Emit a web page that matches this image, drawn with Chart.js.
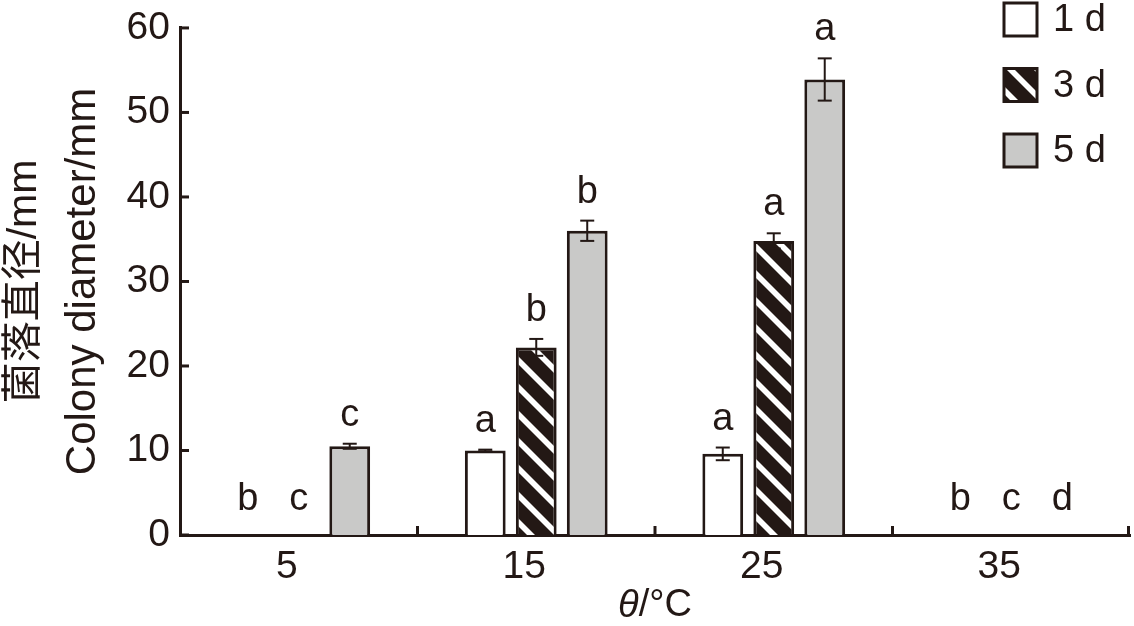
<!DOCTYPE html>
<html>
<head>
<meta charset="utf-8">
<script src="https://cdn.jsdelivr.net/npm/chart.js@4.4.1/dist/chart.umd.min.js"></script>
<style>
  html, body { margin: 0; padding: 0; background: #fff; }
  #wrap { width: 1134px; height: 626px; }
</style>
</head>
<body>
<div id="wrap"><canvas id="colonyChart"></canvas></div>
<script>
const temperatures = ['5', '15', '25', '35'];
const seriesNames = ['1 d', '3 d', '5 d'];
const day1 = [0, 10.0, 9.6, 0];
const day3 = [0, 22.2, 34.8, 0];
const day5 = [10.5, 36.0, 53.9, 0];
const day1Err = [0, 0.1, 0.75, 0];
const day3Err = [0, 1.0, 0.9, 0];
const day5Err = [0.3, 1.2, 2.5, 0];
const day1Letters = ['b', 'a', 'a', 'b'];
const day3Letters = ['c', 'b', 'a', 'c'];
const day5Letters = ['c', 'b', 'a', 'd'];
const yTicks = [0, 10, 20, 30, 40, 50, 60];

const INK = '#231815';
const GRAY = '#c9c9c8';
const FONT = '"Liberation Sans", Arial, "Noto Sans CJK SC", sans-serif';

// diagonal "\" stripes, white on black
function makeHatch() {
  const w = 27, h = 27, band = 8;
  const c = document.createElement('canvas');
  c.width = w; c.height = h;
  const g = c.getContext('2d');
  g.fillStyle = INK;
  g.fillRect(0, 0, w, h);
  g.fillStyle = '#fff';
  for (let k = -1; k <= 1; k++) {
    const o = k * h;
    g.beginPath();
    g.moveTo(0, o);
    g.lineTo(w, o + h);
    g.lineTo(w, o + h + band);
    g.lineTo(0, o + band);
    g.closePath();
    g.fill();
  }
  return g.createPattern(c, 'repeat');
}

const hatch = makeHatch();
const errors = [day1Err, day3Err, day5Err];
const letters = [day1Letters, day3Letters, day5Letters];

function seg(ctx, x1, y1, x2, y2) {
  ctx.beginPath();
  ctx.moveTo(x1, y1);
  ctx.lineTo(x2, y2);
  ctx.stroke();
}

const overlay = {
  id: 'overlay',
  afterDraw(chart) {
    const { ctx, chartArea, scales: { x, y } } = chart;
    ctx.save();
    ctx.strokeStyle = INK;
    ctx.fillStyle = INK;

    // inward tick marks
    ctx.lineWidth = 3;
    yTicks.forEach(v => {
      const py = y.getPixelForValue(v);
      seg(ctx, chartArea.left, py, chartArea.left + 9, py);
    });
    const half = (x.getPixelForValue(1) - x.getPixelForValue(0)) / 2;
    temperatures.forEach((t, i) => {
      const px = Math.min(x.getPixelForValue(i) + half, chartArea.right - 1.5);
      seg(ctx, px, chartArea.bottom, px, chartArea.bottom - 9);
    });

    // error bars and letters
    chart.data.datasets.forEach((ds, di) => {
      const meta = chart.getDatasetMeta(di);
      meta.data.forEach((bar, i) => {
        const v = ds.data[i];
        const e = errors[di][i];
        if (e > 0) {
          const top = y.getPixelForValue(v + e);
          const bot = y.getPixelForValue(v - e);
          ctx.lineWidth = 2;
          seg(ctx, bar.x, top, bar.x, bot);
          seg(ctx, bar.x - 7, top, bar.x + 7, top);
          seg(ctx, bar.x - 7, bot, bar.x + 7, bot);
        }
        const ly = v + e > 0 ? y.getPixelForValue(v + e) - 18 : y.getPixelForValue(0) - 25;
        ctx.font = '38px ' + FONT;
        ctx.textAlign = 'center';
        ctx.textBaseline = 'alphabetic';
        ctx.fillText(letters[di][i], bar.x, ly);
      });
    });

    // legend
    chart.data.datasets.forEach((ds, di) => {
      const top = 3 + di * 65.5;
      ctx.fillStyle = ds.backgroundColor;
      ctx.fillRect(1004, top, 33, 33);
      ctx.lineWidth = 3;
      ctx.strokeStyle = INK;
      ctx.strokeRect(1004, top, 33, 33);
      ctx.fillStyle = INK;
      ctx.font = '38px ' + FONT;
      ctx.textAlign = 'left';
      ctx.textBaseline = 'middle';
      ctx.fillText(ds.label, 1053, top + 18);
    });

    // axis titles
    const midY = (chartArea.top + chartArea.bottom) / 2;
    ctx.save();
    ctx.translate(36, midY);
    ctx.rotate(-Math.PI / 2);
    ctx.textAlign = 'center';
    ctx.textBaseline = 'alphabetic';
    ctx.font = '41px ' + FONT;
    ctx.fillText('菌落直径/mm', 0, 0);
    ctx.restore();
    ctx.save();
    ctx.translate(95, midY);
    ctx.rotate(-Math.PI / 2);
    ctx.textAlign = 'center';
    ctx.textBaseline = 'alphabetic';
    ctx.font = '42px ' + FONT;
    ctx.fillText('Colony diameter/mm', 0, 0);
    ctx.restore();

    const cx = (chartArea.left + chartArea.right) / 2;
    ctx.textBaseline = 'middle';
    ctx.textAlign = 'left';
    ctx.font = 'italic 38px ' + FONT;
    const w1 = ctx.measureText('θ').width;
    ctx.font = '38px ' + FONT;
    const w2 = ctx.measureText('/°C').width;
    const sx = cx - (w1 + w2) / 2;
    ctx.font = 'italic 38px ' + FONT;
    ctx.fillText('θ', sx, 606);
    ctx.font = '38px ' + FONT;
    ctx.fillText('/°C', sx + w1, 606);
    ctx.restore();
  }
};

new Chart(document.getElementById('colonyChart'), {
  type: 'bar',
  data: {
    labels: temperatures,
    datasets: [
      { label: seriesNames[0], data: day1, backgroundColor: '#ffffff' },
      { label: seriesNames[1], data: day3, backgroundColor: hatch },
      { label: seriesNames[2], data: day5, backgroundColor: GRAY }
    ].map(d => Object.assign(d, {
      borderColor: INK,
      borderWidth: c => (c.raw ? 3 : 0),
      borderSkipped: 'start',
      categoryPercentage: 0.644,
      barPercentage: 0.8
    }))
  },
  options: {
    responsive: true,
    maintainAspectRatio: false,
    animation: false,
    layout: { padding: { left: 0, right: 4, top: 0, bottom: 0 } },
    plugins: { legend: { display: false }, tooltip: { enabled: false } },
    scales: {
      x: {
        z: 1,
        grid: { display: false, drawTicks: false },
        border: { display: true, color: INK, width: 3 },
        ticks: { color: INK, font: { family: FONT, size: 39 }, padding: 9, labelOffset: -12 },
        afterFit: s => { s.height = 91; }
      },
      y: {
        z: 1,
        min: 0,
        max: 60,
        grid: { display: false, drawTicks: false },
        border: { display: true, color: INK, width: 3 },
        ticks: { stepSize: 10, color: INK, font: { family: FONT, size: 39, lineHeight: 0.92 }, padding: 10 },
        afterFit: s => { s.width = 180; }
      }
    }
  },
  plugins: [overlay]
});
</script>
</body>
</html>
